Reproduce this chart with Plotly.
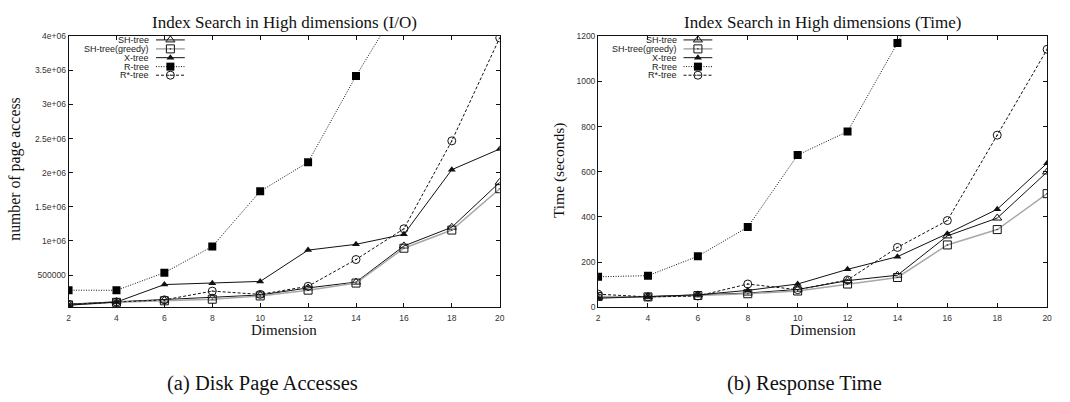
import plotly.graph_objects as go

# ---------------- data ----------------
dims = [2, 4, 6, 8, 10, 12, 14, 16, 18, 20]
series_names = ["SH-tree", "SH-tree(greedy)", "X-tree", "R-tree", "R*-tree"]

# Disk page accesses
io_sh = [74000, 108000, 131000, 165000, 207000, 311000, 396000, 926000, 1200000, 1860000]
io_greedy = [62000, 100000, 122000, 145000, 193000, 278000, 382000, 893000, 1159000, 1765000]
io_x = [58000, 104000, 360000, 380000, 406000, 865000, 950000, 1097000, 2044000, 2347000]
io_r = [278000, 276000, 534000, 918000, 1727000, 2153000, 3418000, 4570000, 5900000, 7500000]
io_rstar = [70000, 104000, 136000, 264000, 216000, 335000, 727000, 1178000, 2466000, 3976000]

# Response time (seconds)
t_sh = [45, 47, 55, 63, 79, 118, 142, 316, 395, 599]
t_greedy = [48, 46, 52, 60, 72, 103, 132, 276, 344, 503]
t_x = [40, 47, 55, 75, 103, 168, 224, 326, 434, 638]
t_r = [135, 140, 226, 355, 674, 778, 1170, 1580, 2200, 2900]
t_rstar = [58, 46, 50, 103, 78, 121, 265, 384, 762, 1142]

io_ticks = [500000, 1000000, 1500000, 2000000, 2500000, 3000000, 3500000, 4000000]
io_tick_text = ["500000", "1e+06", "1.5e+06", "2e+06", "2.5e+06", "3e+06", "3.5e+06", "4e+06"]
t_ticks = [0, 200, 400, 600, 800, 1000, 1200]

# ---------------- styles ----------------
W, H = 1070, 402
styles = [
    dict(line=dict(color="#111111", width=1), marker=dict(symbol="triangle-up-open", size=8, color="#111111", line=dict(width=1))),
    dict(line=dict(color="#a8a8a8", width=1.5), marker=dict(symbol="square-open-dot", size=8, color="#111111", line=dict(width=1))),
    dict(line=dict(color="#111111", width=1), marker=dict(symbol="triangle-up", size=7, color="#111111", line=dict(width=0))),
    dict(line=dict(color="#111111", width=1, dash="1px,1.5px"), marker=dict(symbol="square", size=8, color="#000000", line=dict(width=0))),
    dict(line=dict(color="#111111", width=1, dash="3px,2px"), marker=dict(symbol="circle-open-dot", size=8, color="#111111", line=dict(width=1))),
]

fig = go.Figure()

io_data = [io_sh, io_greedy, io_x, io_r, io_rstar]
t_data = [t_sh, t_greedy, t_x, t_r, t_rstar]

for name, vals, st in zip(series_names, io_data, styles):
    fig.add_trace(go.Scatter(x=dims, y=vals, name=name, mode="lines+markers",
                             line=st["line"], marker=st["marker"], showlegend=False,
                             xaxis="x", yaxis="y", cliponaxis=True))
for name, vals, st in zip(series_names, t_data, styles):
    fig.add_trace(go.Scatter(x=dims, y=vals, name=name, mode="lines+markers",
                             line=st["line"], marker=st["marker"], showlegend=False,
                             xaxis="x2", yaxis="y2", cliponaxis=True))

# ---------------- custom gnuplot-style key (text left, sample right) ----------------
key_rows = [35.8, 45.0, 54.0, 63.2, 72.0]
key_sets = [(150, 155, 184), (681, 686, 715)]
annotations = []
for (tx, lx0, lx1) in key_sets:
    for name, st, ry in zip(series_names, styles, key_rows):
        fig.add_trace(go.Scatter(x=[lx0, lx1], y=[ry, ry], mode="lines", line=st["line"],
                                 showlegend=False, hoverinfo="skip", xaxis="x3", yaxis="y3"))
        fig.add_trace(go.Scatter(x=[(lx0 + lx1) / 2], y=[ry], mode="markers", marker=st["marker"],
                                 showlegend=False, hoverinfo="skip", xaxis="x3", yaxis="y3"))
        annotations.append(dict(x=tx / W, y=1 - ry / H, xref="paper", yref="paper", text=name,
                                xanchor="right", yanchor="middle", showarrow=False,
                                font=dict(family="Liberation Sans, Arial", size=9, color="#222222")))

def px(xp):
    return xp / W

def py(yp):
    return 1 - yp / H

serif = "Liberation Serif, Times New Roman, serif"
texts = [
    ("Index Search in High dimensions (I/O)", 284, 18, 17, 0),
    ("Index Search in High dimensions (Time)", 826, 18, 17, 0),
    ("Dimension", 284, 333, 15, 0),
    ("Dimension", 826, 333, 15, 0),
    ("number of page access", 13, 168, 15.8, -90),
    ("Time (seconds)", 560, 170, 15.5, -90),
    ("(a) Disk Page Accesses", 262, 388, 20.5, 0),
    ("(b) Response Time", 808, 388, 20.5, 0),
]
for t, x, y, s, ang in texts:
    annotations.append(dict(x=px(x), y=py(y), xref="paper", yref="paper", text=t, textangle=ang,
                            xanchor="center", yanchor="middle", showarrow=False,
                            font=dict(family=serif, size=s, color="#111111")))

tickfont = dict(family="Liberation Sans, Arial", size=8.5, color="#333333")
axis_common = dict(showline=True, linecolor="#111111", linewidth=1, mirror="ticks",
                   ticks="inside", ticklen=4, tickcolor="#111111", tickwidth=1,
                   showgrid=False, zeroline=False, tickfont=tickfont)

fig.update_layout(
    width=W, height=H, autosize=False,
    margin=dict(l=0, r=0, t=0, b=0),
    paper_bgcolor="white", plot_bgcolor="rgba(0,0,0,0)",
    showlegend=False,
    xaxis=dict(domain=[px(67), px(501)], range=[2, 20], tickvals=dims, anchor="y",
               ticklabelstandoff=3, **axis_common),
    yaxis=dict(domain=[py(310), py(32)], range=[27000, 4000000], tickvals=io_ticks, ticktext=io_tick_text,
               anchor="x", **axis_common),
    xaxis2=dict(domain=[px(600), px(1052)], range=[2, 20], tickvals=dims, anchor="y2",
                ticklabelstandoff=3, **axis_common),
    yaxis2=dict(domain=[py(310), py(32)], range=[0, 1200], tickvals=t_ticks, anchor="x2", **axis_common),
    xaxis3=dict(domain=[0, 1], range=[0, W], visible=False, anchor="y3"),
    yaxis3=dict(domain=[0, 1], range=[H, 0], visible=False, anchor="x3"),
    annotations=annotations,
)

fig.write_html("out.html", config={"displayModeBar": False},
               post_script="document.body.style.margin='0';")
